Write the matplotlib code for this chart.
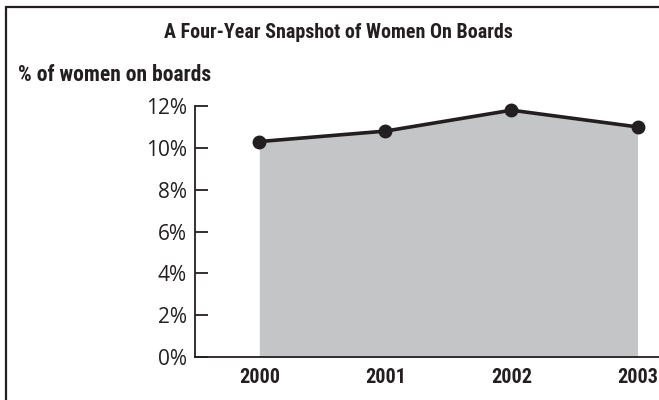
import numpy as np
import matplotlib
matplotlib.use("Agg")
import matplotlib.pyplot as plt
from matplotlib.patches import Rectangle

# ---------- data ----------
years = [2000, 2001, 2002, 2003]
pct_women = [10.3, 10.8, 11.8, 11.0]
yticks = [0, 2, 4, 6, 8, 10, 12]
ytick_labels = [f"{v}%" for v in yticks]

title = "A Four-Year Snapshot of Women On Boards"
ylab = "% of women on boards"

INK = "#231f20"
FILL = "#c4c5c7"
COND = ["Liberation Sans Narrow", "Roboto Condensed", "DejaVu Sans"]

fig = plt.figure(figsize=(6.59, 4.0), dpi=100)

# frame round the whole chart (runs off right/bottom edge)
fig.patches.append(Rectangle((6 / 659, -0.05), 1.1, 1 - 7 / 400 + 0.05,
                             transform=fig.transFigure, fill=False,
                             edgecolor=INK, linewidth=1.6))

# axes: x from 195px to 659px, y from 357px (0%) to 106px (12%)
ax = fig.add_axes([195 / 659, (400 - 357) / 400, (659 - 195) / 659, (357 - 106) / 400])
ax.set_xlim(1999.49, 2003.17)
ax.set_ylim(0, 12)

ax.fill_between(years, 0, pct_women, color=FILL, linewidth=0, zorder=1)
ax.plot(years, pct_women, color=INK, linewidth=2.6, marker="o",
        markersize=9, zorder=3, clip_on=False)

for s in ["top", "right"]:
    ax.spines[s].set_visible(False)
ax.spines["left"].set_color(INK)
ax.spines["bottom"].set_color(INK)
ax.spines["left"].set_linewidth(1.3)
ax.spines["bottom"].set_linewidth(1.3)

ax.set_yticks(yticks)
ax.set_yticklabels(ytick_labels, fontsize=15, color=INK,
                   family=["Open Sans", "DejaVu Sans"], fontweight="normal")
ax.tick_params(axis="y", direction="in", length=9, width=1.3, color=INK, pad=6)

ax.set_xticks(years)
ax.set_xticklabels([str(y) for y in years], fontsize=14.5, fontweight="bold",
                   color=INK, family=COND, fontstretch="condensed")
ax.tick_params(axis="x", length=0, pad=8)

fig.text(338 / 659, 1 - 33 / 400, title, ha="center", va="center",
         fontsize=14.4, fontweight="bold", color=INK, family=COND,
         fontstretch="condensed")
fig.text(18 / 659, 1 - 75 / 400, ylab, ha="left", va="center",
         fontsize=15.5, fontweight="bold", color=INK, family=COND,
         fontstretch="condensed")

fig.savefig("out.png", dpi=100)
